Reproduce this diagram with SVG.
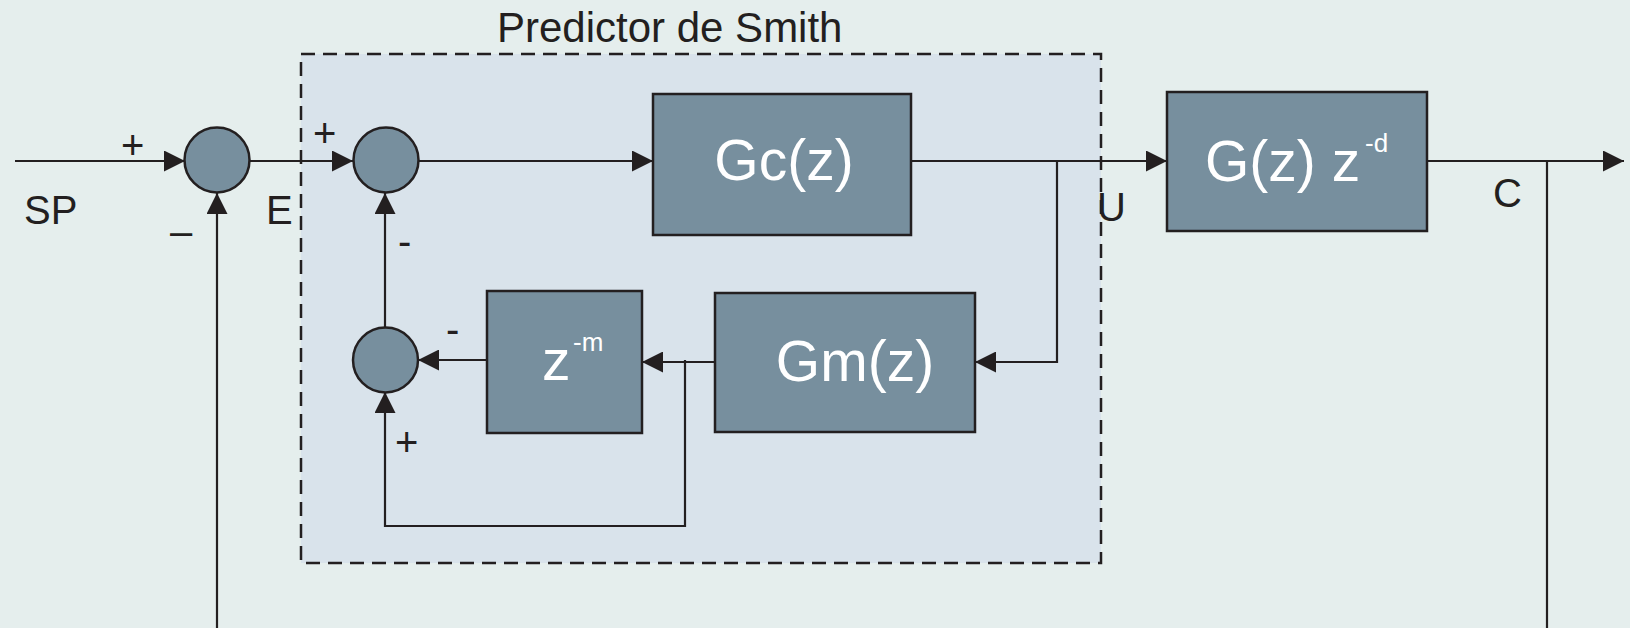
<svg xmlns="http://www.w3.org/2000/svg" width="1630" height="628" viewBox="0 0 1630 628">
<style>
.ln{fill:none;stroke:#231f20;stroke-width:2.2}
.blk{fill:#778f9e;stroke:#231f20;stroke-width:2.5}
.lbl{font-family:"Liberation Sans",Arial,sans-serif;fill:#231f20;font-size:40px}
.bt{font-family:"Liberation Sans",Arial,sans-serif;fill:#ffffff;font-size:57px}
.sup{font-family:"Liberation Sans",Arial,sans-serif;fill:#ffffff;font-size:26px}
</style>
<defs>
<marker id="ah" markerWidth="21" markerHeight="21" refX="21" refY="10.5" orient="auto" markerUnits="userSpaceOnUse">
<path d="M0,0 L21,10.5 L0,21 Z" fill="#231f20"/>
</marker>
</defs>
<rect x="0" y="0" width="1630" height="628" fill="#e5eeed"/>
<g id="smith-predictor">
<rect x="301" y="54" width="800" height="509" fill="#d9e3eb" stroke="#231f20" stroke-width="2.5" stroke-dasharray="14 8"/>
<text class="lbl" x="497" y="42" style="font-size:42px">Predictor de Smith</text>
</g>
<g id="connectors">
<line class="ln" x1="15" y1="161" x2="185" y2="161" marker-end="url(#ah)"/>
<line class="ln" x1="250" y1="161" x2="353" y2="161" marker-end="url(#ah)"/>
<line class="ln" x1="418" y1="161" x2="653" y2="161" marker-end="url(#ah)"/>
<line class="ln" x1="911" y1="161" x2="1167" y2="161" marker-end="url(#ah)"/>
<line class="ln" x1="1427" y1="161" x2="1624" y2="161" marker-end="url(#ah)"/>
<line class="ln" x1="1547" y1="161" x2="1547" y2="628"/>
<line class="ln" x1="217" y1="628" x2="217" y2="193" marker-end="url(#ah)"/>
<polyline class="ln" points="1057,161 1057,362 975,362" marker-end="url(#ah)"/>
<line class="ln" x1="715" y1="362" x2="642" y2="362" marker-end="url(#ah)"/>
<line class="ln" x1="487" y1="360" x2="418" y2="360" marker-end="url(#ah)"/>
<polyline class="ln" points="685,360 685,526 385,526 385,392" marker-end="url(#ah)"/>
<line class="ln" x1="385" y1="327" x2="385" y2="193" marker-end="url(#ah)"/>
</g>
<g id="sum1"><circle class="blk" cx="217" cy="160" r="32.5"/></g>
<g id="sum2"><circle class="blk" cx="386" cy="160" r="32.5"/></g>
<g id="sum3"><circle class="blk" cx="385.5" cy="360" r="32.5"/></g>
<g id="gc">
<rect class="blk" x="653" y="94" width="258" height="141"/>
<text class="bt" x="784" y="180" text-anchor="middle">Gc(z)</text>
</g>
<g id="gplant">
<rect class="blk" x="1167" y="92" width="260" height="139"/>
<text class="bt" x="1205" y="181">G(z) z</text>
<text class="sup" x="1365" y="152">-d</text>
</g>
<g id="gm">
<rect class="blk" x="715" y="293" width="260" height="139"/>
<text class="bt" x="855" y="381" text-anchor="middle">Gm(z)</text>
</g>
<g id="zm">
<rect class="blk" x="487" y="291" width="155" height="142"/>
<text class="bt" x="542" y="380">z</text>
<text class="sup" x="573" y="351">-m</text>
</g>
<g id="labels">
<text class="lbl" x="121" y="159">+</text>
<text class="lbl" x="24" y="224">SP</text>
<text class="lbl" x="170" y="245">–</text>
<text class="lbl" x="266" y="224">E</text>
<text class="lbl" x="313" y="147">+</text>
<text class="lbl" x="398" y="255">-</text>
<text class="lbl" x="446" y="343">-</text>
<text class="lbl" x="395" y="456">+</text>
<text class="lbl" x="1097" y="221">U</text>
<text class="lbl" x="1493" y="207">C</text>
</g>
</svg>
